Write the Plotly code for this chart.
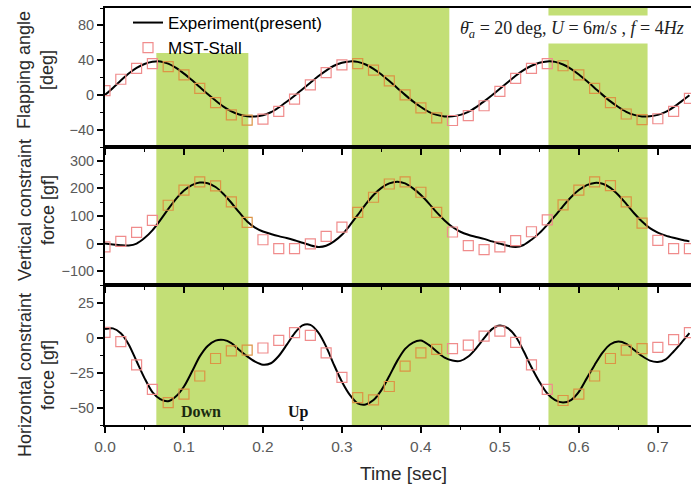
import plotly.graph_objects as go
from plotly.subplots import make_subplots

# ---------------- data ----------------
t_exp = [round(i * 0.01, 2) for i in range(75)]
t_mst = [round(i * 0.02, 2) for i in range(38)]

angle_exp = [0, 8, 16.5, 24.5, 31, 35.5, 38, 38.5, 36, 31,
             24.5, 17, 9, 1, -6.5, -13.5, -19, -22.5, -24.5, -24.8,
             -23.5, -20, -14.5, -8, -1, 6.5, 14, 21.5, 28, 33.5,
             37, 38.5, 38, 35, 30, 23.5, 16, 8, 0, -7.5,
             -14, -19.5, -23, -24.8, -24.5, -23, -19.5, -14, -7.5, -0.5,
             7, 14.5, 22, 28.5, 33.5, 37, 38.5, 38, 35, 30,
             23.5, 16, 8, 0, -7.5, -14, -19.5, -23, -24.8, -24.5,
             -23, -19.5, -14, -7.5, -0.5]
angle_mst = [5, 18, 30.5, 36, 32.5, 23, 7.5, -9, -23, -29,
             -28, -19, -5, 11.5, 25.5, 34.5, 36, 28.5, 16, 0,
             -15, -26.5, -29.5, -24, -12.5, 4, 19, 30.5, 36, 33.5,
             23, 7.5, -9, -22, -28.5, -27.5, -19, -4]

vert_exp = [0, -3, -6, -7, 0, 20, 48, 85, 125, 162,
            192, 212, 221, 219, 205, 180, 148, 113, 80, 58,
            44, 35, 27, 20, 12, 3, -6, -12, -8, 8,
            32, 66, 104, 142, 176, 202, 218, 224, 218, 200,
            176, 146, 113, 84, 60, 43, 32, 24, 17, 8,
            0, -8, -12, -5, 14, 38, 68, 101, 136, 168,
            194, 212, 220, 217, 202, 176, 144, 110, 80, 56,
            40, 29, 21, 14, 8]
vert_mst = [-12, 8, 41, 84, 139, 194, 224, 209, 151, 77,
            14, -18, -18, -1, 26, 60, 113, 168, 216, 224,
            186, 113, 42, -7, -22, -12, 11, 43, 86, 140,
            194, 224, 210, 151, 74, 12, -18, -18]

horiz_exp = [6, 6.5, 3, -5, -17, -29, -39, -44, -45.5, -42,
             -35, -24.5, -13.5, -6, -2.2, -1.7, -4, -9, -13.5, -17.2,
             -19.4, -18.4, -13.2, -5.3, 3, 8.6, 9, 3.6, -6.5, -19.6,
             -31.6, -41, -47, -47.8, -44.7, -37.6, -27.5, -16.7, -8.1, -3.6,
             -2.2, -5.3, -10, -14.4, -16.5, -16.7, -13.6, -7.7, -0.5, 6,
             8.6, 6.7, 0.7, -9.6, -21.3, -31.6, -40, -44.7, -46.4, -44.7,
             -38.8, -29.2, -19.6, -10.8, -4.8, -2.9, -4.5, -8.9, -13.2, -16.5,
             -17.5, -15.6, -10, -3.6, 3.1]
horiz_mst = [3.6, -3, -19.5, -37, -46.5, -40.5, -27.5, -15, -9.5, -9,
             -7.5, -2, 3.5, 1.5, -11, -28.5, -43, -44.5, -35, -20.5,
             -11, -8.5, -8, -5.5, 1, 4.5, -3.5, -19.5, -37, -45,
             -40.5, -27.5, -15, -9, -8, -7, -1.5, 3.5]

# downstroke intervals (s)
down_start = [0.065, 0.3125, 0.5615]
down_end = [0.1815, 0.436, 0.687]

x_ticks = [0.0, 0.1, 0.2, 0.3, 0.4, 0.5, 0.6, 0.7]
x_ticklabels = ["0.0", "0.1", "0.2", "0.3", "0.4", "0.5", "0.6", "0.7"]

# ---------------- styling ----------------
BAND = "#c3df76"
SQ_OUT = "#f08c8c"
SQ_IN = "#dc9445"
SANS = "Liberation Sans, Arial, sans-serif"
SERIF = "Liberation Serif, Times New Roman, serif"


def sq_colors(ts):
    cols = []
    for t in ts:
        inside = any(s <= t <= e for s, e in zip(down_start, down_end))
        cols.append(SQ_IN if inside else SQ_OUT)
    return cols


fig = make_subplots(rows=3, cols=1, shared_xaxes=True, vertical_spacing=0,
                    row_heights=[139, 138, 140])

series = [(angle_exp, angle_mst), (vert_exp, vert_mst), (horiz_exp, horiz_mst)]
for i, (ye, ym) in enumerate(series, start=1):
    fig.add_trace(go.Scatter(
        x=t_exp, y=ye, mode="lines", name="Experiment(present)",
        line=dict(color="black", width=2, shape="spline", smoothing=0.8),
        showlegend=(i == 1)), row=i, col=1)
    fig.add_trace(go.Scatter(
        x=t_mst, y=ym, mode="markers", name="MST-Stall",
        marker=dict(symbol="square-open", size=10,
                    color=sq_colors(t_mst), line=dict(width=1.2)),
        showlegend=(i == 1)), row=i, col=1)

# green downstroke bands
for i in range(1, 4):
    xr = "x" if i == 1 else f"x{i}"
    yr = "y domain" if i == 1 else f"y{i} domain"
    for s, e in zip(down_start, down_end):
        fig.add_shape(type="rect", xref=xr, yref=yr, x0=s, x1=e, y0=0, y1=1,
                      fillcolor=BAND, line=dict(width=0), layer="below")

# white backing behind the legend (top-left of first panel)
fig.add_shape(type="rect", xref="x domain", yref="y domain",
              x0=0, x1=0.39, y0=1 - 45 / 139, y1=1,
              fillcolor="white", line=dict(width=0), layer="below")

yranges = [[-60, 100], [-150, 350], [-62.5, 37.5]]
ydticks = [40, 100, 25]
for i in range(1, 4):
    fig.update_yaxes(row=i, col=1, range=yranges[i - 1], dtick=ydticks[i - 1],
                     tick0=0, ticks="outside", ticklen=6, tickwidth=1.5,
                     tickcolor="black", showline=True, linecolor="black",
                     linewidth=1.8, mirror=False, showgrid=False, zeroline=False,
                     automargin=False,
                     tickfont=dict(family=SANS, size=14.5, color="#5a5a5a"),
                     minor=dict(dtick=ydticks[i - 1] / 2, ticks="outside",
                                ticklen=3, tickwidth=1.2, tickcolor="black"))
    fig.update_xaxes(row=i, col=1, range=[0, 0.742], tickvals=x_ticks,
                     ticktext=x_ticklabels, ticks="outside", ticklen=6,
                     tickwidth=1.5, tickcolor="black", showline=True,
                     linecolor="black", linewidth=1.8, mirror=True,
                     showgrid=False, zeroline=False, automargin=False,
                     showticklabels=(i == 3),
                     tickfont=dict(family=SANS, size=15.5, color="#5a5a5a"),
                     minor=dict(dtick=0.05, ticks="outside", ticklen=3,
                                tickwidth=1.2, tickcolor="black"))

# pixel helpers for paper placement
PLOT_T, PLOT_H, PLOT_L, PLOT_W = 8, 417, 105, 586


def py(px):
    return (PLOT_T + PLOT_H - px) / PLOT_H


def pxx(px):
    return (px - PLOT_L) / PLOT_W


ytitles = [("Flapping angle<br>[deg]", 70),
           ("Vertical constraint<br>force [gf]", 210),
           ("Horizontal constraint<br>force [gf]", 375)]
for txt, ycen in ytitles:
    fig.add_annotation(text=txt, xref="paper", yref="paper", x=pxx(36), y=py(ycen),
                       xanchor="center", yanchor="middle", textangle=-90,
                       showarrow=False,
                       font=dict(family=SANS, size=18, color="#2a2a2a"))

fig.add_annotation(text="Time [sec]", xref="paper", yref="paper",
                   x=pxx(403), y=py(473), xanchor="center", yanchor="middle",
                   showarrow=False, font=dict(family=SANS, size=19, color="#2a2a2a"))

fig.add_annotation(text="<i>θ\u0304</i><sub><i>a</i></sub> = 20\u2009deg, <i>U</i> = 6<i>m</i>/<i>s</i> , <i>f</i> = 4<i>Hz</i>",
                   xref="paper", yref="paper", x=pxx(457), y=py(29),
                   xanchor="left", yanchor="middle", showarrow=False,
                   bgcolor="white", borderpad=2,
                   font=dict(family=SERIF, size=18, color="#222"))

fig.add_annotation(text="<b>Down</b>", xref="x3", yref="y3", x=0.122, y=-53,
                   showarrow=False, font=dict(family=SERIF, size=16, color="#1a2a10"))
fig.add_annotation(text="<b>Up</b>", xref="x3", yref="y3", x=0.245, y=-53,
                   showarrow=False, font=dict(family=SERIF, size=16, color="#111"))

fig.update_layout(
    width=691, height=488,
    margin=dict(l=PLOT_L, r=0, t=PLOT_T, b=63, autoexpand=False),
    paper_bgcolor="white", plot_bgcolor="white",
    showlegend=True,
    legend=dict(x=pxx(128), y=py(5), xanchor="left", yanchor="top",
                bgcolor="rgba(0,0,0,0)", borderwidth=0,
                font=dict(family=SANS, size=17, color="black"),
                tracegroupgap=0, itemwidth=30),
)

fig.write_html("out.html", config={"displayModeBar": False},
               post_script="document.body.style.margin='0';document.body.style.overflow='hidden';")
